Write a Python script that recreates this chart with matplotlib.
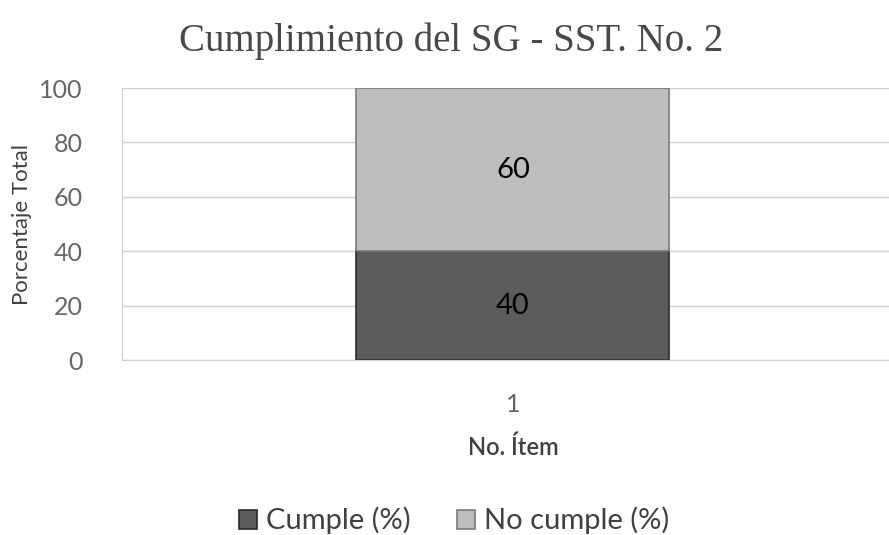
import matplotlib.pyplot as plt
import numpy as np

items = ["1"]
cumple = [40]
no_cumple = [60]
y_ticks = [0, 20, 40, 60, 80, 100]

plt.rcParams['font.family'] = ['Lato', 'DejaVu Sans']

fig = plt.figure(figsize=(8.89, 5.35), dpi=100)
ax = fig.add_axes([0.137, 0.327, 0.88, 0.5084])

x = np.arange(1, len(items) + 1)
width = 0.4
bars1 = ax.bar(x, cumple, width, color='#5c5c5c', edgecolor='#2a2a2a', linewidth=1.2, label='Cumple (%)')
bars2 = ax.bar(x, no_cumple, width, bottom=cumple, color='#bdbdbd', edgecolor='#7a7a7a', linewidth=1.2,
               label='No cumple (%)')

for bar, val in zip(bars1, cumple):
    ax.text(bar.get_x() + bar.get_width() / 2, val / 2, f'{val}', ha='center', va='center',
            fontsize=21, color='black')
for bar, base, val in zip(bars2, cumple, no_cumple):
    ax.text(bar.get_x() + bar.get_width() / 2, base + val / 2, f'{val}', ha='center', va='center',
            fontsize=21, color='black')

ax.set_xlim(0.5, 1.5)
ax.set_ylim(0, 100)
ax.set_yticks(y_ticks)
ax.set_xticks(x)
ax.set_xticklabels(items)
ax.tick_params(axis='y', length=0, labelsize=18, colors='#666666', pad=28)
ax.tick_params(axis='x', length=0, labelsize=18, colors='#666666', pad=24)
ax.yaxis.grid(True, color='#d0d0d0', linewidth=1)
ax.set_axisbelow(True)
for side in ['top', 'right']:
    ax.spines[side].set_visible(False)
ax.spines['left'].set_color('#d0d0d0')
ax.spines['bottom'].set_color('#d0d0d0')

ax.set_ylabel('Porcentaje Total', fontsize=16, color='#404040', labelpad=5)
ax.set_xlabel('No. Ítem', fontsize=17, color='#404040', fontweight='semibold', labelpad=14)

fig.text(0.508, 0.922, 'Cumplimiento del SG - SST. No. 2', ha='center', va='center',
         fontsize=28, family='Liberation Serif', color='#484848')

fig.legend(handles=[bars1, bars2], loc='center', bbox_to_anchor=(0.511, 0.027), ncol=2,
           frameon=False, fontsize=21, labelcolor='#404040', handlelength=0.62, handleheight=0.62,
           columnspacing=1.6, handletextpad=0.3)

fig.savefig('out.png', dpi=100)
